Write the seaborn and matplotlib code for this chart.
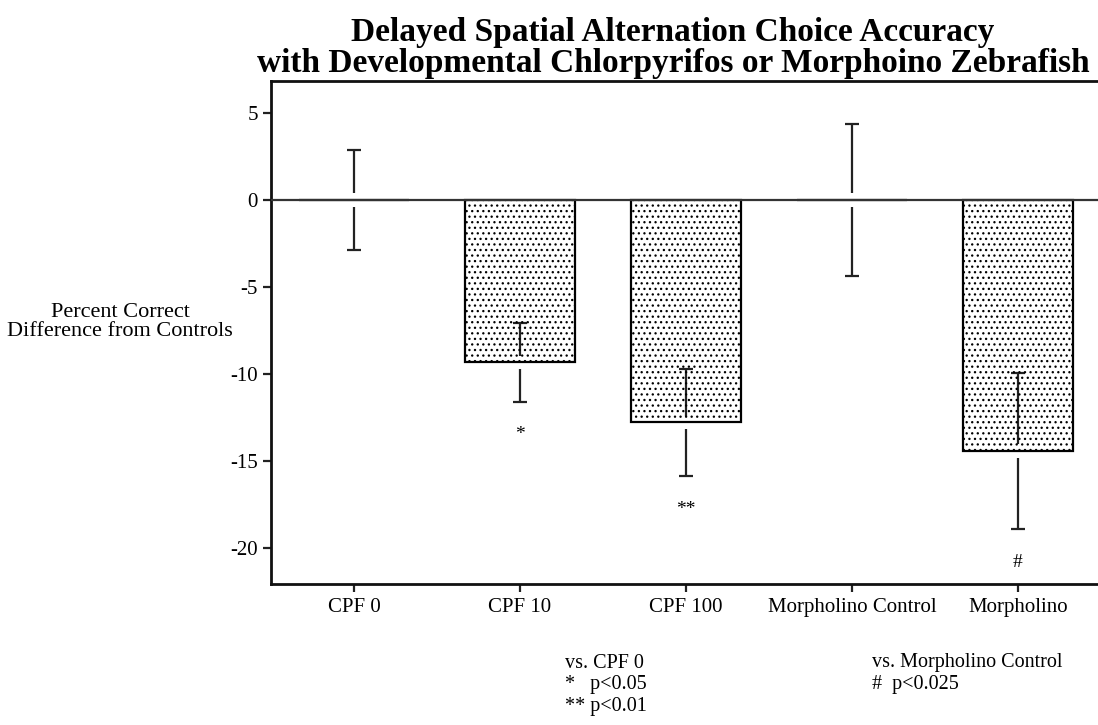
import matplotlib
matplotlib.use("Agg")
import matplotlib.pyplot as plt
import seaborn as sns
import pandas as pd
import numpy as np

categories = ["CPF 0", "CPF 10", "CPF 100", "Morpholino Control", "Morpholino"]
means = [0.0, -9.35, -12.8, 0.0, -14.45]
sems = [2.9, 2.25, 3.1, 4.4, 4.5]
marks = ["", "*", "**", "", "#"]
yticks = [5, 0, -5, -10, -15, -20]

sns.set_style("ticks")
plt.rcParams["font.family"] = ["Liberation Serif", "DejaVu Serif"]
plt.rcParams["axes.unicode_minus"] = False
plt.rcParams["hatch.linewidth"] = 0.9
plt.rcParams["hatch.color"] = "#444444"
plt.rcParams["text.color"] = "black"
plt.rcParams["xtick.color"] = "black"
plt.rcParams["ytick.color"] = "black"

fig = plt.figure(figsize=(10.98, 7.25), dpi=100)
ax = fig.add_axes([271/1098, 141/725, 830/1098, 503/725])

df = pd.DataFrame({"group": categories, "value": means})
sns.barplot(data=df, x="group", y="value", ax=ax, color="white",
            edgecolor="black", linewidth=1.6, width=0.66, errorbar=None,
            hatch="...", saturation=1)
for p in ax.patches:
    p.set_facecolor("none")
    p.set_zorder(4)

xs = np.arange(len(categories))
ax.errorbar(xs, means, yerr=sems, fmt="none", ecolor="#222222",
            elinewidth=1.6, capsize=5, capthick=1.6, zorder=2)
# white gaps where the error bar meets the bar end
for x, m in zip(xs, means):
    ax.plot([x, x], [m - 0.38, m + 0.38], color="white", lw=4,
            solid_capstyle="butt", zorder=3)

ax.axhline(0, color="#333333", lw=1.6, zorder=5)

for x, m, s, t in zip(xs, means, sems, marks):
    if t:
        ax.text(x, m - s - 1.4, t, ha="center", va="top", fontsize=14)

ax.set_xlim(-0.5, 4.5)
ax.set_ylim(-22.1, 6.85)
ax.set_yticks(yticks)
ax.set_yticklabels([str(v) for v in yticks], fontsize=15)
ax.set_xticks(xs)
ax.set_xticklabels(categories, fontsize=15)
ax.set_xlabel("")
ax.set_ylabel("")
ax.tick_params(axis="both", direction="out", length=6, width=1.6, color="#222222")
ax.tick_params(axis="x", pad=4)
for side in ["left", "top", "bottom", "right"]:
    ax.spines[side].set_visible(True)
    ax.spines[side].set_linewidth(2)
    ax.spines[side].set_color("#111111")

fig.text(120/1098, 1 - 322/725, "Percent Correct\nDifference from Controls",
         ha="center", va="center", fontsize=16, linespacing=0.95)

fig.text(0.613, 1 - 48/725,
         "Delayed Spatial Alternation Choice Accuracy\nwith Developmental Chlorpyrifos or Morphoino Zebrafish",
         ha="center", va="center", fontsize=24, fontweight="bold", linespacing=1.0)

fig.text(565/1098, 1 - 663/725, "vs. CPF 0", ha="left", va="center", fontsize=14.5)
fig.text(565/1098, 1 - 685/725, "*   p<0.05", ha="left", va="center", fontsize=14.5)
fig.text(565/1098, 1 - 707/725, "** p<0.01", ha="left", va="center", fontsize=14.5)
fig.text(872/1098, 1 - 663/725, "vs. Morpholino Control", ha="left", va="center", fontsize=14.5)
fig.text(872/1098, 1 - 685/725, "#  p<0.025", ha="left", va="center", fontsize=14.5)

fig.savefig("out.png", dpi=100)
